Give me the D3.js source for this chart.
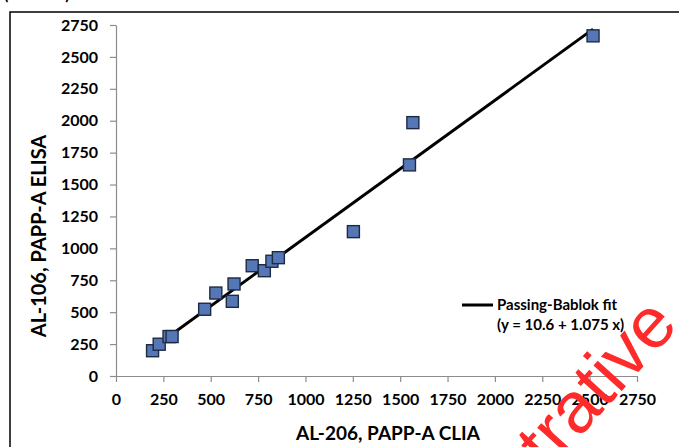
<!DOCTYPE html>
<html>
<head>
<meta charset="utf-8">
<script src="https://cdn.jsdelivr.net/npm/d3@7"></script>
<style>
  body { margin: 0; background: #fff; }
  svg { display: block; }
</style>
</head>
<body>
<div id="chart"></div>
<script>
// CLIA (x) vs ELISA (y) PAPP-A results
var cliaVals  = [193, 228, 280, 296, 468, 527, 614, 623, 719, 783, 823, 857, 1253, 1549, 1567, 2518];
var elisaVals = [198, 249, 309, 309, 523, 650, 585, 721, 864, 825, 899, 927, 1131, 1654, 1985, 2665];
// Passing-Bablok fit
var fitIntercept = 10.6;
var fitSlope = 1.075;
var tickVals = [0, 250, 500, 750, 1000, 1250, 1500, 1750, 2000, 2250, 2500, 2750];

var svgWidth = 679, svgHeight = 447;
var font = "Lato, 'Open Sans', sans-serif";

var svg = d3.select("#chart").append("svg")
    .attr("width", svgWidth)
    .attr("height", svgHeight);

// outer frame (runs off the page right and bottom)
svg.append("rect")
    .attr("x", 10).attr("y", 12)
    .attr("width", 700).attr("height", 460)
    .attr("fill", "none")
    .attr("stroke", "#000")
    .attr("stroke-width", 1.5);

// cropped header text at very top
svg.append("text")
    .attr("x", 4).attr("y", 0)
    .style("font-family", font).style("font-size", "16px").style("font-weight", "bold")
    .text("(PAPP-A)");

var x = d3.scaleLinear().domain([0, 2750]).range([116, 637]);
var y = d3.scaleLinear().domain([0, 2750]).range([376, 25]);

// x axis
var xAxis = svg.append("g")
    .attr("transform", "translate(0," + y(0) + ")")
    .call(d3.axisBottom(x).tickValues(tickVals).tickFormat(d3.format("d"))
      .tickSize(6).tickPadding(12).tickSizeOuter(0));
// y axis
var yAxis = svg.append("g")
    .attr("transform", "translate(" + x(0) + ",0)")
    .call(d3.axisLeft(y).tickValues(tickVals).tickFormat(d3.format("d"))
      .tickSize(6).tickPadding(12).tickSizeOuter(0));

[xAxis, yAxis].forEach(function(ax) {
  ax.selectAll("path, line").attr("stroke", "#8c8c8c").attr("stroke-width", 1.2);
  ax.selectAll("text")
    .attr("fill", "#000")
    .style("font-family", font)
    .style("font-size", "16px")
    .style("font-weight", "bold");
});

// fit line
var xMin = d3.min(cliaVals), xMax = d3.max(cliaVals);
svg.append("line")
    .attr("x1", x(xMin)).attr("y1", y(fitIntercept + fitSlope * xMin))
    .attr("x2", x(xMax)).attr("y2", y(fitIntercept + fitSlope * xMax))
    .attr("stroke", "#000")
    .attr("stroke-width", 3);

// points
var pts = cliaVals.map(function(v, i) { return {x: v, y: elisaVals[i]}; });
var sz = 12;
svg.selectAll(".pt")
    .data(pts)
    .enter().append("rect")
    .attr("class", "pt")
    .attr("x", function(d) { return x(d.x) - sz / 2; })
    .attr("y", function(d) { return y(d.y) - sz / 2; })
    .attr("width", sz).attr("height", sz)
    .attr("fill", "#5577b6")
    .attr("stroke", "#1e2a44")
    .attr("stroke-width", 1.4);

// legend
svg.append("line")
    .attr("x1", 462).attr("x2", 493).attr("y1", 305).attr("y2", 305)
    .attr("stroke", "#000").attr("stroke-width", 3);
svg.append("text")
    .attr("x", 497).attr("y", 310)
    .style("font-family", font).style("font-size", "15px").style("font-weight", "bold")
    .text("Passing-Bablok fit");
svg.append("text")
    .attr("x", 497).attr("y", 330)
    .style("font-family", font).style("font-size", "15px").style("font-weight", "bold")
    .text("(y = " + fitIntercept + " + " + fitSlope + " x)");

// axis titles
svg.append("text")
    .attr("text-anchor", "middle")
    .attr("x", 388).attr("y", 440)
    .style("font-family", font).style("font-size", "19px").style("font-weight", "bold")
    .text("AL-206, PAPP-A CLIA");
svg.append("text")
    .attr("text-anchor", "middle")
    .attr("transform", "translate(46,236)rotate(-90)")
    .style("font-family", font).style("font-size", "20px").style("font-weight", "bold")
    .text("AL-106, PAPP-A ELISA");

// watermark
svg.append("text")
    .attr("text-anchor", "end")
    .attr("transform", "translate(680,326)rotate(-48)")
    .style("font-family", "'Liberation Sans', Arial, sans-serif")
    .style("font-size", "72px")
    .attr("fill", "#ff2a2a")
    .text("Illustrative");
</script>
</body>
</html>
